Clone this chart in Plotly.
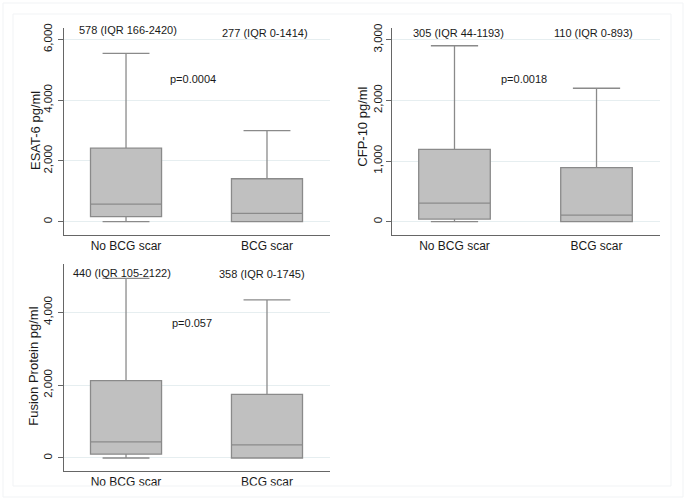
import plotly.graph_objects as go

W, H = 686, 501

categories = ["No BCG scar", "BCG scar"]

# panel 1: ESAT-6
esat_q1 = [166, 0]
esat_median = [578, 277]
esat_q3 = [2420, 1414]
esat_lower = [0, 0]
esat_upper = [5540, 3000]

# panel 2: CFP-10
cfp_q1 = [44, 0]
cfp_median = [305, 110]
cfp_q3 = [1193, 893]
cfp_lower = [0, 0]
cfp_upper = [2900, 2200]

# panel 3: Fusion protein
fus_q1 = [105, 0]
fus_median = [440, 358]
fus_q3 = [2122, 1745]
fus_lower = [0, 0]
fus_upper = [4930, 4340]

esat_ticks = [0, 2000, 4000, 6000]
cfp_ticks = [0, 1000, 2000, 3000]
fus_ticks = [0, 2000, 4000]

esat_labels = ["578 (IQR 166-2420)", "277 (IQR 0-1414)"]
cfp_labels = ["305 (IQR 44-1193)", "110 (IQR 0-893)"]
fus_labels = ["440 (IQR 105-2122)", "358 (IQR 0-1745)"]
p_values = ["p=0.0004", "p=0.0018", "p=0.057"]
y_titles = ["ESAT-6 pg/ml", "CFP-10 pg/ml", "Fusion Protein pg/ml"]

FONT = "Liberation Sans, Arial, sans-serif"
BOX_FILL = "#c0c0c0"
BOX_LINE = "#8a8a8a"
GRID = "#e6eef0"
AXIS = "#666666"


def px(x):
    return x / W


def py(y):
    return 1 - y / H


fig = go.Figure()

panels = [
    ("x", "y", esat_q1, esat_median, esat_q3, esat_lower, esat_upper),
    ("x2", "y2", cfp_q1, cfp_median, cfp_q3, cfp_lower, cfp_upper),
    ("x3", "y3", fus_q1, fus_median, fus_q3, fus_lower, fus_upper),
]

for xa, ya, q1, med, q3, lo, up in panels:
    for i, cat in enumerate(categories):
        fig.add_trace(go.Box(
            x=[cat], q1=[q1[i]], median=[med[i]], q3=[q3[i]],
            lowerfence=[lo[i]], upperfence=[up[i]],
            xaxis=xa, yaxis=ya,
            width=0.504, whiskerwidth=0.66,
            fillcolor=BOX_FILL, line=dict(color=BOX_LINE, width=1.3),
            boxpoints=False, showlegend=False, hoverinfo="skip",
        ))

xr = [-0.44, 1.447]
common_x = dict(
    type="category", range=xr, showgrid=False, zeroline=False,
    showline=True, linecolor=AXIS, linewidth=1, ticks="",
    tickfont=dict(family=FONT, size=12, color="#1a1a1a"),
    fixedrange=True, automargin=False,
)
common_y = dict(
    showgrid=True, gridcolor=GRID, gridwidth=1, zeroline=False,
    showline=True, linecolor=AXIS, linewidth=1,
    ticks="outside", ticklen=5, tickcolor=AXIS, tickangle=-90,
    tickformat=",d",
    tickfont=dict(family=FONT, size=11.5, color="#1a1a1a"),
    fixedrange=True, automargin=False,
)

dom1x = [px(64), px(330)]
dom2x = [px(392), px(660)]
dom12y = [py(235), py(28.3)]
dom3y = [py(470.7), py(264)]

fig.update_layout(
    width=W, height=H,
    margin=dict(l=0, r=0, t=0, b=0),
    paper_bgcolor="white", plot_bgcolor="white",
    xaxis=dict(domain=dom1x, anchor="y", **common_x),
    yaxis=dict(domain=dom12y, anchor="x", range=[-438, 6365], tickvals=esat_ticks,
               ticklabelstandoff=1, **common_y),
    xaxis2=dict(domain=dom2x, anchor="y2", **common_x),
    yaxis2=dict(domain=dom12y, anchor="x2", range=[-219, 3188], tickvals=cfp_ticks,
                ticklabelstandoff=-1, **common_y),
    xaxis3=dict(domain=dom1x, anchor="y3", **common_x),
    yaxis3=dict(domain=dom3y, anchor="x3", range=[-349, 5326], tickvals=fus_ticks,
                ticklabelstandoff=1, **common_y),
)

ann = []
# text over boxes
for labels, xs, ys in [
    (esat_labels, [127.5, 265], [30.5, 33.3]),
    (cfp_labels, [458, 593], [33.3, 33.3]),
    (fus_labels, [122, 262], [273.3, 274]),
]:
    for t, xx, yy in zip(labels, xs, ys):
        ann.append(dict(text=t, x=px(xx), y=py(yy), xref="paper", yref="paper",
                        showarrow=False, xanchor="center", yanchor="middle",
                        font=dict(family=FONT, size=11, color="#1a1a1a")))
for t, xx, yy in zip(p_values, [193, 524, 191.5], [79, 78.7, 323.3]):
    ann.append(dict(text=t, x=px(xx), y=py(yy), xref="paper", yref="paper",
                    showarrow=False, xanchor="center", yanchor="middle",
                    font=dict(family=FONT, size=11, color="#1a1a1a")))
for t, xx, yy in zip(y_titles, [35, 363, 34], [131, 126.7, 366.7]):
    ann.append(dict(text=t, x=px(xx), y=py(yy), xref="paper", yref="paper",
                    showarrow=False, xanchor="center", yanchor="middle", textangle=-90,
                    font=dict(family=FONT, size=13, color="#1a1a1a")))
fig.update_layout(annotations=ann)

# faint region outlines
shapes = [
    dict(type="rect", xref="paper", yref="paper", x0=px(3), x1=px(683), y0=py(497), y1=py(3),
         line=dict(color="#f1f3f5", width=1)),
    dict(type="rect", xref="paper", yref="paper", x0=px(13), x1=px(671), y0=py(486), y1=py(14),
         line=dict(color="#f1f3f5", width=1)),
]
fig.update_layout(shapes=shapes)

fig.write_html(
    "out.html",
    config={"displayModeBar": False},
    post_script="document.body.style.margin='0';document.body.style.padding='0';",
)
